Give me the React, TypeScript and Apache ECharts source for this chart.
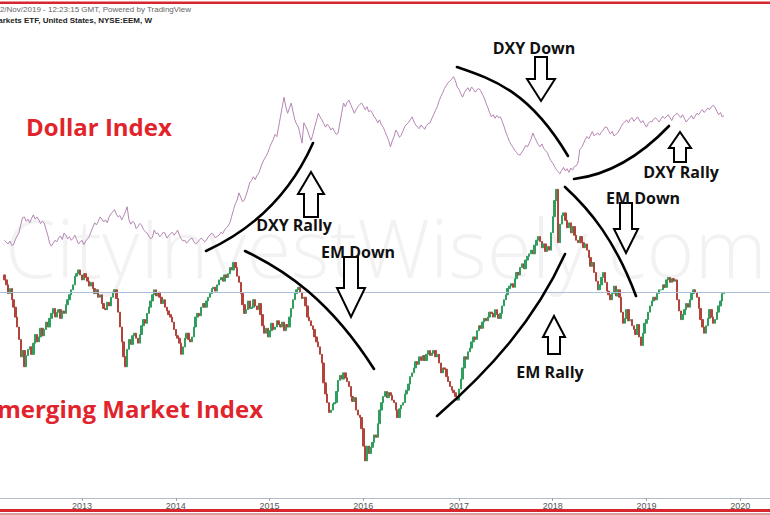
import React, { useEffect, useRef } from 'react';
import * as echarts from 'echarts';

// Weekly categories (Fridays) spanning the visible window
const START_UTC = Date.UTC(2012, 1, 24);
const WEEK_COUNT = 427;
const DATA_OFFSET = 2; // first candle falls on the 3rd week of the window

// iShares MSCI Emerging Markets ETF — weekly closes
const EEM_FIRST_OPEN = 44.4;
const EEM_CLOSE = [
  44.0, 43.6, 42.9, 43.3, 42.4, 41.8, 41.0, 40.2, 39.2, 37.8,
  38.3, 37.0, 37.9, 38.4, 38.6, 38.0, 38.9, 39.6, 39.0, 39.4,
  40.1, 39.5, 40.0, 40.6, 40.2, 40.9, 41.3, 41.7, 41.0, 41.4,
  41.6, 40.9, 41.5, 41.3, 42.0, 42.4, 42.8, 43.2, 43.6, 44.3,
  44.5, 44.8, 44.4, 44.0, 44.5, 44.2, 43.9, 43.5, 43.8, 43.3,
  42.9, 43.2, 42.6, 42.8, 42.1, 41.7, 41.6, 42.2, 41.9, 42.6,
  43.0, 43.2, 42.5, 41.4, 40.2, 39.0, 37.8, 37.0, 38.4, 39.2,
  38.8, 39.5, 39.7, 39.3, 38.9, 39.6, 40.3, 40.8, 40.5, 41.3,
  41.8, 42.3, 42.8, 43.2, 42.7, 43.0, 42.6, 42.1, 42.4, 41.8,
  41.5, 41.2, 41.0, 40.6, 40.0, 39.5, 39.3, 38.9, 38.0, 38.6,
  39.3, 39.7, 39.2, 39.0, 39.4, 40.2, 41.0, 41.3, 41.1, 41.8,
  42.1, 41.8, 42.3, 42.6, 42.9, 43.3, 43.4, 43.1, 43.6, 44.0,
  44.2, 43.9, 44.4, 44.2, 44.5, 45.0, 44.8, 45.4, 45.0, 44.3,
  43.8, 42.9, 42.0, 41.3, 41.6, 42.3, 41.7, 41.8, 42.4, 41.9,
  41.6, 42.1, 41.2, 40.3, 39.7, 40.1, 39.4, 39.9, 40.5, 40.0,
  40.2, 40.7, 40.4, 40.2, 40.6, 39.9, 40.4, 40.2, 41.0, 41.7,
  42.4, 42.9, 43.2, 43.4, 43.0, 42.5, 42.6, 41.9, 41.0, 40.7,
  40.3, 40.0, 39.4, 39.0, 38.6, 38.0, 37.3, 35.7, 34.8, 34.1,
  33.3, 33.5, 34.0, 34.1, 35.0, 35.9, 36.3, 36.0, 36.5, 36.1,
  35.8, 35.4, 34.6, 34.2, 34.5, 33.5, 33.1, 32.9, 32.0, 30.6,
  29.4, 30.6, 30.0, 30.5, 30.9, 31.5, 31.3, 32.4, 33.5, 34.1,
  34.6, 35.0, 34.5, 34.9, 34.7, 34.3, 34.1, 33.5, 32.9, 33.6,
  33.9, 34.1, 34.8, 35.1, 35.6, 36.2, 36.5, 36.9, 37.4, 37.2,
  37.8, 37.5, 37.9, 37.5, 38.0, 38.3, 37.9, 38.1, 38.3, 37.8,
  38.0, 37.3, 36.5, 36.9, 36.8, 36.2, 35.8, 35.4, 35.1, 34.9,
  34.6, 34.3, 35.2, 36.0, 36.9, 37.8, 37.6, 38.2, 38.5, 39.0,
  39.4, 39.2, 39.9, 40.3, 40.1, 40.6, 40.9, 40.7, 41.0, 41.4,
  41.3, 41.0, 41.6, 41.2, 40.9, 41.3, 41.9, 42.4, 42.8, 43.3,
  43.5, 43.7, 43.4, 44.1, 44.6, 44.4, 45.0, 45.3, 44.9, 45.6,
  45.9, 46.1, 46.4, 46.1, 46.8, 47.2, 47.5, 47.1, 46.6, 46.9,
  46.3, 46.7, 46.4, 47.8, 49.1, 50.4, 51.3, 47.0, 48.5, 49.2,
  49.4, 48.8, 48.2, 48.6, 47.8, 48.3, 47.6, 47.2, 47.0, 47.5,
  47.0, 46.6, 46.9, 46.4, 45.8, 45.1, 45.4, 44.6, 43.9, 43.2,
  43.6, 44.2, 44.6, 43.8, 43.1, 42.8, 42.4, 42.9, 43.5, 42.7,
  43.2, 42.6, 41.4, 40.5, 40.9, 41.6, 40.7, 40.8, 40.3, 40.0,
  39.6, 40.4, 39.4, 38.7, 39.7, 40.5, 40.8, 41.4, 41.9, 42.3,
  42.6, 42.4, 42.9, 43.2, 43.2, 43.6, 43.4, 44.0, 44.2, 43.8,
  44.1, 43.9, 44.0, 42.4, 41.5, 40.8, 41.2, 41.6, 42.1, 41.8,
  42.4, 42.9, 43.2, 43.0, 42.6, 41.7, 40.8, 40.2, 39.7, 40.3,
  40.9, 41.6, 41.0, 40.5, 40.8, 41.4, 41.9, 42.3, 42.9, 43.0,
];

// US Dollar Index — weekly values
const DXY = [
  80.3, 80.0, 79.8, 80.2, 79.6, 79.7, 80.4, 80.9, 81.3, 82.4,
  83.4, 83.5, 82.9, 83.2, 82.7, 83.3, 83.8, 83.2, 83.5, 83.1,
  82.6, 82.9, 82.7, 81.8, 81.0, 79.9, 79.5, 79.9, 80.3, 80.1,
  80.6, 80.9, 80.4, 81.3, 81.0, 80.5, 80.8, 80.3, 80.6, 81.0,
  80.4, 79.8, 80.1, 80.3, 79.7, 80.2, 80.5, 80.8, 81.5, 82.1,
  82.7, 82.4, 82.9, 83.5, 83.2, 82.8, 83.1, 82.7, 83.5, 83.9,
  84.2, 84.5, 83.9, 83.5, 83.7, 83.1, 83.6, 84.2, 84.9, 83.1,
  82.5, 82.9, 82.7, 81.9, 82.2, 82.6, 82.4, 81.8, 81.5, 81.3,
  80.9, 80.5, 80.7, 81.7, 81.2, 81.3, 80.8, 81.0, 81.4, 81.3,
  80.6, 80.9, 81.2, 81.4, 81.0, 81.3, 81.7, 81.0, 80.5, 80.2,
  80.3, 79.9, 80.2, 80.5, 80.6, 80.1, 79.8, 80.0, 80.3, 80.6,
  80.4, 80.1, 80.3, 80.8, 81.0, 81.3, 81.0, 80.6, 80.9, 81.0,
  81.4, 81.2, 81.7, 82.0, 82.3, 82.7, 83.6, 84.5, 85.3, 85.8,
  86.8, 86.2, 85.6, 85.8, 86.5, 87.3, 88.2, 88.5, 89.0, 88.6,
  89.2, 89.5, 90.2, 90.9, 91.4, 91.8, 92.3, 93.0, 93.6, 94.1,
  94.8, 94.5, 95.8, 97.2, 98.5, 99.9, 98.6, 97.7, 98.4, 99.1,
  97.9, 96.8, 96.2, 95.8, 94.7, 93.6, 96.4, 95.9, 95.4, 94.6,
  94.0, 94.8, 95.8, 96.7, 97.7, 97.2, 96.8, 96.3, 95.8, 96.2,
  95.9, 95.4, 95.7, 95.2, 94.8, 95.0, 96.4, 97.8, 99.1, 98.6,
  99.2, 99.5, 98.9, 98.3, 97.7, 98.2, 98.6, 98.9, 99.1, 98.7,
  98.2, 98.6, 97.9, 98.1, 97.7, 97.2, 96.9, 96.4, 96.8, 96.1,
  95.8, 95.2, 94.6, 94.0, 93.1, 93.9, 94.5, 95.4, 95.0, 94.4,
  94.7, 95.3, 95.9, 96.2, 96.4, 96.8, 97.2, 96.6, 96.1, 95.8,
  95.6, 96.1, 95.8, 95.5, 96.0, 96.3, 96.4, 97.0, 97.5, 98.1,
  98.6, 99.4, 100.0, 100.5, 101.1, 101.5, 101.9, 102.1, 102.4, 102.7,
  102.2, 101.3, 101.0, 100.4, 99.9, 100.5, 100.9, 101.2, 100.7, 101.3,
  101.0, 100.6, 100.9, 101.1, 100.8, 100.3, 99.8, 99.1, 98.5, 97.8,
  97.2, 97.5, 97.0, 97.4, 97.1, 97.2, 96.6, 95.9, 95.1, 94.5,
  93.8, 93.4, 93.0, 92.6, 92.3, 92.0, 92.0, 92.4, 92.8, 93.3,
  93.1, 93.6, 94.2, 95.0, 94.4, 93.9, 93.4, 93.1, 93.5, 92.9,
  92.6, 92.3, 91.7, 91.2, 90.9, 90.4, 90.0, 89.7, 89.4, 89.9,
  90.3, 89.8, 90.1, 89.6, 90.2, 89.9, 90.4, 90.5, 90.9, 92.7,
  93.0, 93.5, 94.1, 94.5, 94.2, 94.7, 95.2, 94.6, 94.8, 95.0,
  94.7, 95.1, 95.4, 95.8, 95.8, 95.3, 94.9, 95.2, 94.6, 94.8,
  95.0, 95.4, 95.9, 96.3, 96.5, 96.8, 96.4, 96.9, 97.1, 96.6,
  96.9, 97.2, 96.8, 96.4, 96.7, 96.2, 95.8, 96.3, 96.6, 96.5,
  96.9, 97.1, 96.8, 96.5, 96.9, 97.3, 97.0, 97.2, 97.5, 97.1,
  96.7, 97.3, 97.5, 97.7, 97.4, 97.1, 97.5, 97.0, 96.5, 96.8,
  97.1, 97.4, 96.9, 97.3, 97.7, 97.5, 97.9, 98.2, 97.8, 98.1,
  98.4, 98.2, 98.6, 98.8, 98.5, 98.0, 97.5, 97.8, 97.2, 97.4,
];

const HEADER_LINE_1 = '02/Nov/2019 - 12:23:15 GMT, Powered by TradingView';
const HEADER_LINE_2 = 'iShares MSCI Emerging Markets ETF, United States, NYSE:EEM, W';
const WATERMARK = 'CityInvestWisely.com';

const RED = '#e1232b';
const ANNO_FONT = 'bold 16px "Open Sans", "DejaVu Sans", sans-serif';

function arrow(cx: number, base: number, headY: number, tipY: number, sh: number, hh: number) {
  return {
    type: 'polygon',
    z: 100,
    shape: {
      points: [
        [cx - sh, base], [cx + sh, base], [cx + sh, headY], [cx + hh, headY],
        [cx, tipY], [cx - hh, headY], [cx - sh, headY],
      ],
    },
    style: { fill: '#ffffff', stroke: '#000000', lineWidth: 2, lineJoin: 'miter' },
  };
}

function label(text: string, x: number, y: number) {
  return {
    type: 'text', z: 100, x, y,
    style: { text, font: ANNO_FONT, fill: '#111111', textAlign: 'center', textVerticalAlign: 'middle' },
  };
}

function curve(shape: any) {
  return {
    type: 'bezierCurve', z: 100, shape,
    style: { stroke: '#000000', lineWidth: 2.6, fill: null, lineCap: 'round' },
  };
}

export default function App() {
  const ref = useRef<HTMLDivElement>(null);

  useEffect(() => {
    if (!ref.current) return;
    const chart = echarts.init(ref.current, null, { renderer: 'svg' });

    const dates: string[] = [];
    for (let k = 0; k < WEEK_COUNT; k++) {
      dates.push(new Date(START_UTC + k * 7 * 86400000).toISOString().slice(0, 10));
    }
    const isYearStart = (idx: number) => {
      const d = dates[idx];
      return !!d && d.slice(5, 7) === '01' && +d.slice(8, 10) <= 7;
    };

    const candles = dates.map((_, k) => {
      const j = k - DATA_OFFSET;
      if (j < 0 || j >= EEM_CLOSE.length) return '-';
      const o = j === 0 ? EEM_FIRST_OPEN : EEM_CLOSE[j - 1];
      const c = EEM_CLOSE[j];
      return [o, c, Math.min(o, c), Math.max(o, c)];
    });
    const dxy = dates.map((_, k) => {
      const j = k - DATA_OFFSET;
      return j < 0 || j >= DXY.length ? '-' : DXY[j];
    });
    const lastClose = EEM_CLOSE[EEM_CLOSE.length - 1];

    chart.setOption({
      animation: false,
      backgroundColor: '#ffffff',
      grid: { left: -2, right: 0, top: 5, bottom: 17, containLabel: false },
      xAxis: {
        type: 'category',
        data: dates,
        boundaryGap: true,
        axisLine: { show: true, lineStyle: { color: '#b4bcc8', width: 1 } },
        axisTick: {
          show: true, alignWithLabel: true, length: 3,
          interval: (idx: number) => isYearStart(idx),
          lineStyle: { color: '#9aa3ad' },
        },
        axisLabel: {
          show: true,
          interval: (idx: number) => isYearStart(idx),
          formatter: (v: string) => v.slice(0, 4),
          color: '#555555', fontSize: 9, margin: 3,
          fontFamily: '"Liberation Sans", Arial, sans-serif',
        },
        splitLine: { show: false },
      },
      yAxis: [
        { type: 'value', min: 26.41, max: 66.17, show: false, splitLine: { show: false } },
        { type: 'value', min: 45, max: 112.53, show: false, splitLine: { show: false } },
      ],
      series: [
        {
          type: 'line',
          yAxisIndex: 1,
          data: dxy,
          showSymbol: false,
          symbol: 'none',
          lineStyle: { color: '#b585b4', width: 1 },
          z: 3,
        },
        {
          type: 'candlestick',
          yAxisIndex: 0,
          data: candles,
          barWidth: 1.9,
          itemStyle: {
            color: '#2f9e5f', color0: '#b3443c',
            borderColor: '#2f9e5f', borderColor0: '#b3443c', borderWidth: 1,
          },
          markLine: {
            silent: true, symbol: 'none', label: { show: false },
            lineStyle: { color: '#aac0d8', width: 1, type: 'solid' },
            data: [{ yAxis: lastClose }],
          },
          z: 4,
        },
      ],
      graphic: [
        {
          type: 'text', z: 0, x: 5, y: 246,
          style: {
            text: WATERMARK, fill: 'rgba(0,0,0,0.05)',
            font: '300 82px "Open Sans", "Noto Sans", sans-serif',
            textAlign: 'left', textVerticalAlign: 'middle',
          },
        },
        // frame lines
        { type: 'rect', z: 100, shape: { x: 0, y: 1.5, width: 770, height: 2.5 }, style: { fill: '#d8262f' } },
        { type: 'rect', z: 100, shape: { x: 0, y: 509, width: 770, height: 3 }, style: { fill: '#d8262f' } },
        { type: 'rect', z: 100, shape: { x: 0, y: 513.5, width: 770, height: 1 }, style: { fill: '#b43a3f' } },
        // header
        {
          type: 'text', z: 100, x: 191, y: 9,
          style: {
            text: HEADER_LINE_1, fill: '#666666', textAlign: 'right', textVerticalAlign: 'middle',
            font: '8px "Liberation Sans", Arial, sans-serif',
          },
        },
        {
          type: 'text', z: 100, x: 152, y: 20,
          style: {
            text: HEADER_LINE_2, fill: '#222222', textAlign: 'right', textVerticalAlign: 'middle',
            font: 'bold 8px "Liberation Sans", Arial, sans-serif',
          },
        },
        // titles
        {
          type: 'text', z: 100, x: 26, y: 126,
          style: {
            text: 'Dollar Index', fill: RED, textAlign: 'left', textVerticalAlign: 'middle',
            font: 'bold 24px "Open Sans", "DejaVu Sans", sans-serif',
          },
        },
        {
          type: 'text', z: 100, x: 263, y: 408,
          style: {
            text: 'Emerging Market Index', fill: RED, textAlign: 'right', textVerticalAlign: 'middle',
            font: 'bold 24px "Open Sans", "DejaVu Sans", sans-serif',
          },
        },
        // trend curves
        curve({ x1: 206, y1: 251, x2: 313, y2: 143, cpx1: 280, cpy1: 217 }),
        curve({ x1: 245, y1: 251, x2: 374, y2: 369, cpx1: 285, cpy1: 270, cpx2: 330, cpy2: 300 }),
        curve({ x1: 457, y1: 67, x2: 568, y2: 156, cpx1: 495, cpy1: 80, cpx2: 530, cpy2: 92 }),
        curve({ x1: 574, y1: 179, x2: 669, y2: 126, cpx1: 624, cpy1: 173 }),
        curve({ x1: 437, y1: 416, x2: 565, y2: 254, cpx1: 490, cpy1: 370, cpx2: 535, cpy2: 320 }),
        curve({ x1: 565, y1: 187, x2: 636, y2: 296, cpx1: 590, cpy1: 210, cpx2: 615, cpy2: 240 }),
        // arrows
        arrow(541, 57, 79, 101, 6, 14),
        arrow(680, 162, 148, 132, 6, 11),
        arrow(626, 203, 229, 253, 6, 12),
        arrow(311, 217, 194, 172, 7, 13),
        arrow(351, 257, 288, 317, 7, 14),
        arrow(554, 354, 337, 316, 6, 11),
        // annotation labels
        label('DXY Down', 534, 48),
        label('DXY Rally', 681, 172),
        label('EM Down', 643, 198),
        label('DXY Rally', 294, 225),
        label('EM Down', 358, 252),
        label('EM Rally', 550, 372),
      ],
    });

    return () => chart.dispose();
  }, []);

  return (
    <div
      ref={ref}
      style={{ position: 'fixed', left: 0, top: 0, width: 770, height: 515, background: '#fff' }}
    />
  );
}
